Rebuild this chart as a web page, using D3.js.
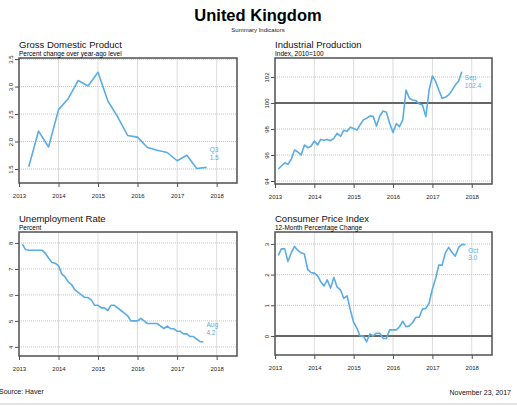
<!DOCTYPE html>
<html>
<head>
<meta charset="utf-8">
<script src="https://cdn.jsdelivr.net/npm/d3@7"></script>
<style>
body { margin: 0; background: #fff; }
svg { font-family: "Liberation Sans", Arial, sans-serif; display: block; }
</style>
</head>
<body>
<svg width="517" height="406"></svg>
<script>
// GDP, % change yoy, quarterly 2013Q1 - 2017Q3
const gdpValues = [1.54, 2.19, 1.90, 2.58, 2.78, 3.11, 3.01, 3.26, 2.74, 2.45,
    2.11, 2.08, 1.89, 1.84, 1.80, 1.65, 1.75, 1.51, 1.53];
// Industrial production, 2010=100, monthly Jan 2013 - Sep 2017
const ipValues = [94.92, 95.15, 95.40, 95.28, 95.67, 96.38, 96.23, 96.00, 96.77, 96.56, 96.67, 97.08,
    96.77, 97.20, 97.13, 97.20, 97.10, 97.28, 97.67, 97.44, 97.90, 97.82, 98.13, 98.03,
    97.92, 98.31, 98.70, 98.82, 99.00, 98.97, 98.23, 99.00, 99.38, 99.28, 98.44, 97.74,
    98.41, 98.18, 98.70, 101.00, 100.36, 100.23, 100.18, 99.92, 99.85, 98.95, 101.00, 102.08,
    101.64, 101.00, 100.36, 100.44, 100.62, 100.97, 101.38, 101.69, 102.41];
// Unemployment rate, monthly Jan 2013 - Aug 2017
const unempValues = [7.95, 7.75, 7.72, 7.72, 7.72, 7.72, 7.72, 7.6, 7.42, 7.25, 7.22, 7.12,
    6.8, 6.7, 6.5, 6.4, 6.2, 6.1, 6.0, 5.9, 5.9, 5.8, 5.6, 5.6,
    5.5, 5.5, 5.4, 5.6, 5.6, 5.5, 5.4, 5.3, 5.2, 5.0, 5.0, 5.0,
    5.1, 5.0, 4.9, 4.9, 4.9, 4.9, 4.8, 4.7, 4.8, 4.7, 4.7, 4.6,
    4.6, 4.5, 4.5, 4.4, 4.4, 4.3, 4.2, 4.2];
// CPI, 12-month % change, monthly Jan 2013 - Oct 2017
const cpiValues = [2.63, 2.84, 2.84, 2.43, 2.71, 2.92, 2.79, 2.71, 2.67, 2.16, 2.07, 2.05,
    1.96, 1.77, 1.63, 1.83, 1.56, 1.91, 1.59, 1.50, 1.23, 1.31, 0.85, 0.44,
    0.25, 0.0, 0.0, -0.19, 0.07, 0.0, 0.09, 0.09, -0.08, -0.08, 0.2, 0.2,
    0.2, 0.3, 0.48, 0.3, 0.33, 0.44, 0.61, 0.61, 0.88, 0.9, 1.07, 1.53,
    1.89, 2.31, 2.31, 2.71, 2.89, 2.73, 2.6, 2.89, 2.98, 2.98];

const yearTicks = [2013, 2014, 2015, 2016, 2017, 2018];
const gdpTicks = [1.5, 2.0, 2.5, 3.0, 3.5];
const ipTicks = [94, 96, 98, 100, 102];
const unempTicks = [4, 5, 6, 7, 8];
const cpiTicks = [0, 1, 2, 3];

const lineColor = "#5aade4";

// every value is drawn at the end of its period
function makeSeries(values, firstEnd, stepMonths) {
    return values.map((v, i) => ({date: d3.timeMonth.offset(firstEnd, i * stepMonths), value: v}));
}

const panels = [
    {title: "Gross Domestic Product", sub: "Percent change over year-ago level",
     left: 19, right: 237, top: 58, bottom: 183, yDomain: [1.245, 3.52],
     ticks: gdpTicks, fmt: ".1f", ref: null,
     data: makeSeries(gdpValues, new Date(2013, 3, 1), 3), lab: ["Q3", "1.5"], labY: [151.5, 159.5]},
    {title: "Industrial Production", sub: "Index, 2010=100",
     left: 275, right: 492, top: 58, bottom: 184, yDomain: [93.77, 103.46],
     ticks: ipTicks, fmt: "d", ref: 100,
     data: makeSeries(ipValues, new Date(2013, 1, 1), 1), lab: ["Sep", "102.4"], labY: [79.5, 87.5]},
    {title: "Unemployment Rate", sub: "Percent",
     left: 19, right: 237, top: 232, bottom: 356, yDomain: [3.65, 8.42],
     ticks: unempTicks, fmt: "d", ref: null,
     data: makeSeries(unempValues, new Date(2013, 1, 1), 1), lab: ["Aug", "4.2"], labY: [326.5, 334.5]},
    {title: "Consumer Price Index", sub: "12-Month Percentage Change",
     left: 275, right: 492, top: 232, bottom: 355, yDomain: [-0.62, 3.39],
     ticks: cpiTicks, fmt: "d", ref: 0,
     data: makeSeries(cpiValues, new Date(2013, 1, 1), 1), lab: ["Oct", "3.0"], labY: [252.5, 260]}
];

function drawPanel(svg, p) {
    const scX = d3.scaleTime()
        .domain([new Date(2013, 0, 1), new Date(2018, 6, 8)])
        .range([p.left, p.right]);
    const scY = d3.scaleLinear().domain(p.yDomain).range([p.bottom, p.top]);
    const g = svg.append("g");

    // vertical grid (years)
    g.append("g").selectAll("line")
        .data(yearTicks.slice(1))
        .join("line")
        .attr("x1", d => scX(new Date(d, 0, 1)))
        .attr("x2", d => scX(new Date(d, 0, 1)))
        .attr("y1", p.top).attr("y2", p.bottom)
        .style("stroke", "#dcdcdc").style("stroke-width", 1);

    // horizontal grid, dotted
    g.append("g").selectAll("line")
        .data(p.ticks.filter(t => t !== p.ref))
        .join("line")
        .attr("x1", p.left).attr("x2", p.right)
        .attr("y1", d => scY(d)).attr("y2", d => scY(d))
        .style("stroke", "#c4c4c4").style("stroke-width", 1)
        .style("stroke-dasharray", "1,1");

    if (p.ref !== null) {
        g.append("line")
            .attr("x1", p.left).attr("x2", p.right)
            .attr("y1", scY(p.ref)).attr("y2", scY(p.ref))
            .style("stroke", "#666").style("stroke-width", 1.8);
    }

    const line = d3.line().x(d => scX(d.date)).y(d => scY(d.value));
    g.append("path")
        .datum(p.data)
        .attr("d", line)
        .style("fill", "none")
        .style("stroke", lineColor)
        .style("stroke-width", 1.6)
        .style("stroke-linejoin", "round");

    // frame
    g.append("rect")
        .attr("x", p.left).attr("y", p.top)
        .attr("width", p.right - p.left).attr("height", p.bottom - p.top)
        .style("fill", "none").style("stroke", "#505050").style("stroke-width", 1.5);

    // axes
    const axX = g.append("g")
        .attr("transform", `translate(0, ${p.bottom})`)
        .call(d3.axisBottom(scX)
            .tickValues(yearTicks.map(y => new Date(y, 0, 1)))
            .tickFormat(d3.timeFormat("%Y"))
            .tickSize(4).tickPadding(7));
    axX.select(".domain").remove();
    axX.selectAll("text").style("font-size", "6px").style("fill", "#222")
        .style("font-family", "Liberation Sans, Arial, sans-serif");
    axX.selectAll("line").style("stroke", "#505050");

    const axY = g.append("g")
        .attr("transform", `translate(${p.left}, 0)`)
        .call(d3.axisLeft(scY).tickValues(p.ticks).tickFormat(d3.format(p.fmt)).tickSize(4));
    axY.select(".domain").remove();
    axY.selectAll("line").style("stroke", "#505050");
    axY.selectAll("text")
        .attr("x", null).attr("dy", null)
        .attr("transform", "translate(-6.5,0) rotate(-90)")
        .style("text-anchor", "middle")
        .style("font-size", "6px").style("fill", "#222")
        .style("font-family", "Liberation Sans, Arial, sans-serif");

    // titles
    g.append("text").attr("x", p.left).attr("y", p.top - 10)
        .text(p.title).style("font-size", "9.5px").style("fill", "#111");
    g.append("text").attr("x", p.left).attr("y", p.top - 2)
        .text(p.sub).style("font-size", "6.5px").style("fill", "#000");

    // last value label
    const last = p.data[p.data.length - 1];
    g.selectAll(".lab")
        .data(p.lab)
        .join("text")
        .attr("x", scX(last.date) + 3)
        .attr("y", (d, i) => p.labY[i])
        .text(d => d)
        .style("font-size", "6.5px")
        .style("fill", lineColor);
}

const svg = d3.select("svg");

svg.append("text").attr("x", 258).attr("y", 20.5)
    .attr("text-anchor", "middle")
    .text("United Kingdom")
    .style("font-size", "16.5px").style("font-weight", "bold").style("fill", "#000");
svg.append("text").attr("x", 258).attr("y", 32)
    .attr("text-anchor", "middle")
    .text("Summary Indicators")
    .style("font-size", "6px").style("fill", "#222");

panels.forEach(p => drawPanel(svg, p));

svg.append("text").attr("x", -1).attr("y", 394)
    .text("Source: Haver").style("font-size", "7px").style("fill", "#111");
svg.append("text").attr("x", 511).attr("y", 394.5)
    .attr("text-anchor", "end")
    .text("November 23, 2017").style("font-size", "7px").style("fill", "#111");
svg.append("line")
    .attr("x1", 0).attr("x2", 517).attr("y1", 404).attr("y2", 404)
    .style("stroke", "#e4e4e4").style("stroke-width", 2);
</script>
</body>
</html>
